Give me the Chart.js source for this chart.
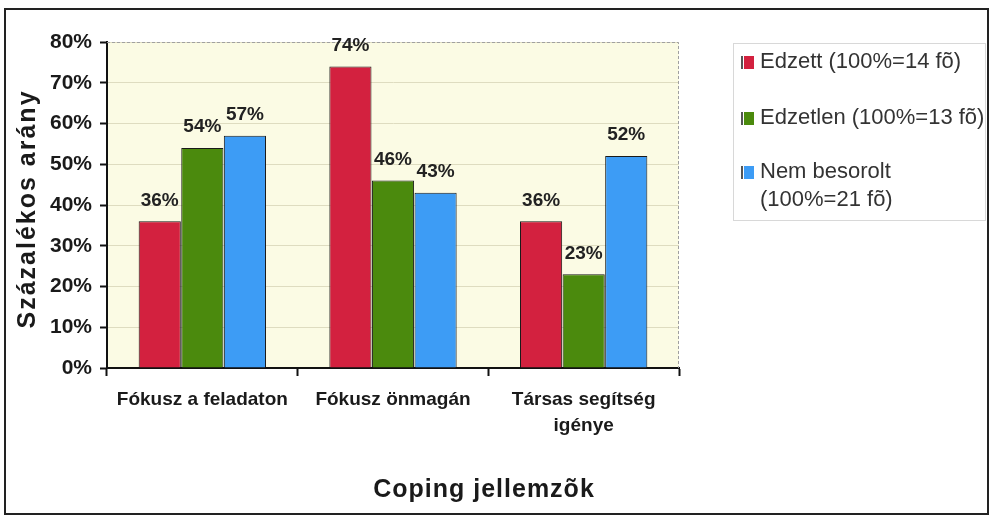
<!DOCTYPE html>
<html>
<head>
<meta charset="utf-8">
<script src="https://cdn.jsdelivr.net/npm/chart.js@4.4.1/dist/chart.umd.min.js"></script>
<style>
  html, body { margin: 0; padding: 0; background: #fff; }
  #wrap { width: 991px; height: 516px; }
</style>
</head>
<body>
<div id="wrap"><canvas id="chart" width="991" height="516"></canvas></div>
<script>
// ── données ──
const categories = ['Fókusz a feladaton', 'Fókusz önmagán', ['Társas segítség', 'igénye']];
const edzett = [36, 74, 36];
const edzetlen = [54, 46, 23];
const nemBesorolt = [57, 43, 52];
const seriesLabels = [
    ['Edzett (100%=14 fõ)'],
    ['Edzetlen (100%=13 fõ)'],
    ['Nem besorolt', '(100%=21 fõ)']
];
const yTicks = [0, 10, 20, 30, 40, 50, 60, 70, 80];
const yTitle = 'Százalékos arány';
const xTitle = 'Coping jellemzõk';

const colors = ['#d3213f', '#4b8a0d', '#3d9cf5'];
const FONT = 'Arial, "Liberation Sans", sans-serif';

// fond crème de la zone de tracé + cadre extérieur
const decorPlugin = {
    id: 'decor',
    beforeDraw(chart) {
        const { ctx, chartArea: a } = chart;
        ctx.save();
        ctx.fillStyle = '#fbfbe4';
        ctx.fillRect(a.left, a.top, a.right - a.left, a.bottom - a.top);
        ctx.restore();
    },
    afterDraw(chart) {
        const { ctx, chartArea: a } = chart;
        ctx.save();
        // bordure pointillée haut + droite
        ctx.strokeStyle = '#a0a0a0';
        ctx.lineWidth = 1;
        ctx.setLineDash([3, 2]);
        ctx.beginPath();
        ctx.moveTo(a.left, a.top + 0.5);
        ctx.lineTo(a.right - 0.5, a.top + 0.5);
        ctx.lineTo(a.right - 0.5, a.bottom);
        ctx.stroke();
        ctx.setLineDash([]);

        // cadre extérieur
        ctx.strokeStyle = '#222';
        ctx.lineWidth = 2;
        ctx.strokeRect(5, 9, 983, 505);

        // titres des axes
        ctx.fillStyle = '#1a1a1a';
        ctx.textAlign = 'center';
        ctx.textBaseline = 'middle';
        ctx.font = 'bold 25px ' + FONT;
        ctx.letterSpacing = '1px';
        ctx.fillText(xTitle, 484, 490);

        ctx.translate(28, (a.top + a.bottom) / 2 + 4);
        ctx.rotate(-Math.PI / 2);
        ctx.font = 'bold 25px ' + FONT;
        ctx.letterSpacing = '2px';
        ctx.fillText(yTitle, 0, 0);
        ctx.restore();

        // légende
        ctx.save();
        ctx.strokeStyle = '#d8d8d8';
        ctx.lineWidth = 1;
        ctx.strokeRect(733.5, 43.5, 252, 177);
        const rows = [62, 118, 172];
        ctx.font = '22px ' + FONT;
        ctx.textAlign = 'left';
        ctx.textBaseline = 'middle';
        seriesLabels.forEach((lines, i) => {
            const cy = rows[i];
            ctx.fillStyle = '#555';
            ctx.fillRect(741, cy - 6, 2, 13);
            ctx.fillStyle = colors[i];
            ctx.fillRect(744, cy - 6, 10, 13);
            ctx.fillStyle = '#333';
            lines.forEach((t, j) => ctx.fillText(t, 760, cy + j * 28));
        });
        ctx.restore();

        // étiquettes des valeurs au-dessus des barres
        ctx.save();
        ctx.font = 'bold 19px ' + FONT;
        ctx.fillStyle = '#222';
        ctx.textAlign = 'center';
        ctx.textBaseline = 'middle';
        chart.data.datasets.forEach((ds, di) => {
            chart.getDatasetMeta(di).data.forEach((bar, i) => {
                ctx.fillText(ds.data[i] + '%', bar.x, bar.y - 21);
            });
        });
        ctx.restore();
    }
};

new Chart(document.getElementById('chart'), {
    type: 'bar',
    data: {
        labels: categories,
        datasets: [edzett, edzetlen, nemBesorolt].map((d, i) => ({
            label: seriesLabels[i].join(' '),
            data: d,
            backgroundColor: colors[i],
            borderColor: '#1a1a1a',
            borderWidth: 1,
            categoryPercentage: 0.67,
            barPercentage: 0.99
        }))
    },
    options: {
        responsive: false,
        animation: false,
        devicePixelRatio: 1,
        layout: { padding: { left: 0, top: 42, right: 312, bottom: 0 } },
        plugins: {
            legend: { display: false },
            tooltip: { enabled: false }
        },
        scales: {
            x: {
                grid: {
                    offset: true,
                    drawOnChartArea: false,
                    tickLength: 8,
                    tickColor: '#111',
                    tickWidth: 2
                },
                border: { color: '#111', width: 2 },
                ticks: {
                    color: '#1a1a1a',
                    font: { family: FONT, size: 19, weight: 'bold', lineHeight: 1.4 },
                    padding: 10,
                    maxRotation: 0,
                    autoSkip: false
                },
                afterFit(scale) { scale.height = 148; }
            },
            y: {
                min: 0,
                max: 80,
                afterBuildTicks(scale) { scale.ticks = yTicks.map(v => ({ value: v })); },
                grid: {
                    color: '#dedcc0',
                    lineWidth: 1,
                    tickLength: 7,
                    tickColor: '#111',
                    tickWidth: 2
                },
                border: { color: '#111', width: 2 },
                ticks: {
                    color: '#1a1a1a',
                    font: { family: FONT, size: 21, weight: 'bold' },
                    padding: 8,
                    callback: v => v + '%'
                },
                afterFit(scale) { scale.width = 107; }
            }
        }
    },
    plugins: [decorPlugin]
});
</script>
</body>
</html>
